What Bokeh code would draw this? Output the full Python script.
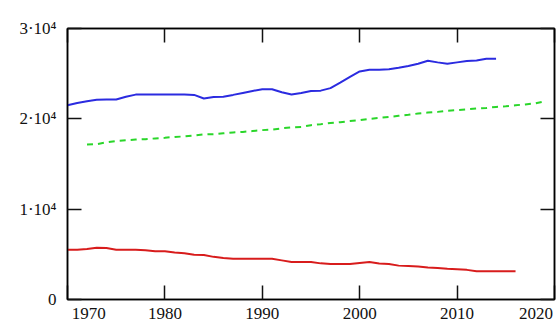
from bokeh.plotting import figure
from bokeh.models import Range1d, LinearAxis, FixedTicker
from bokeh.embed import file_html
from bokeh.resources import INLINE

# Annual series
years_blue = list(range(1970, 2015))
blue_vals = [21500, 21750, 21950, 22100, 22130, 22150, 22450, 22680, 22680, 22680,
             22680, 22680, 22680, 22650, 22250, 22420, 22450, 22650, 22870, 23090,
             23270, 23270, 22950, 22700, 22870, 23090, 23120, 23400, 24000, 24650,
             25250, 25440, 25440, 25480, 25650, 25850, 26100, 26430, 26250, 26100,
             26250, 26400, 26450, 26650, 26650]

years_green = list(range(1972, 2020))
green_vals = [17170, 17200, 17400, 17550, 17640, 17700, 17750, 17830, 17900, 18000,
              18050, 18150, 18270, 18300, 18400, 18490, 18550, 18650, 18750, 18800,
              18950, 19050, 19110, 19300, 19410, 19550, 19630, 19750, 19850, 20000,
              20100, 20200, 20330, 20450, 20590, 20700, 20770, 20900, 20960, 21050,
              21140, 21200, 21320, 21400, 21500, 21600, 21700, 21950]

years_red = list(range(1970, 2017))
red_vals = [5515, 5515, 5600, 5735, 5700, 5515, 5515, 5515, 5450, 5330,
            5330, 5200, 5110, 4950, 4920, 4720, 4600, 4520, 4520, 4520,
            4520, 4500, 4330, 4150, 4150, 4150, 4000, 3930, 3930, 3930,
            4050, 4150, 3980, 3930, 3750, 3710, 3650, 3530, 3500, 3400,
            3340, 3280, 3120, 3120, 3120, 3120, 3120]

# Axis ticks and labels
x_ticks = [1970, 1980, 1990, 2000, 2010, 2020]
x_tick_labels = ["1970", "1980", "1990", "2000", "2010", "2020"]
y_ticks = [0, 10000, 20000, 30000]
y_tick_labels = ["0", "1·10⁴", "2·10⁴", "3·10⁴"]

FONT = "'Liberation Serif'"
FIG_SPACE = "\u2007"
THIN_SPACE = "\u2009"

p = figure(width=556, height=325, output_backend="svg", toolbar_location=None,
           x_range=Range1d(x_ticks[0], x_ticks[-1]),
           y_range=Range1d(y_ticks[0], y_ticks[-1]),
           x_axis_location=None, y_axis_location=None,
           min_border_left=67, min_border_right=2, min_border_top=28,
           min_border_bottom=25, background_fill_color="white",
           border_fill_color="white")
p.grid.visible = False
p.outline_line_color = "black"
p.outline_line_width = 1.5


def tick_axis(ticks, labels=None):
    ax = LinearAxis(ticker=FixedTicker(ticks=ticks))
    ax.major_tick_in = 14
    ax.major_tick_out = 0
    ax.minor_tick_line_color = None
    ax.major_tick_line_color = "#111111"
    ax.major_tick_line_width = 1.5
    ax.axis_line_color = "black"
    ax.axis_line_width = 1.5
    if labels is None:
        ax.major_label_text_color = None
        ax.major_label_text_font_size = "0px"
        ax.major_label_standoff = 0
    else:
        ax.major_label_overrides = labels
        ax.major_label_text_font = FONT
        ax.major_label_text_font_size = "17px"
        ax.major_label_text_color = "#111111"
    return ax


# Bottom labels: the outermost ones are padded so they sit inside the frame width
bottom_labels = {}
for i, (t, s) in enumerate(zip(x_ticks, x_tick_labels)):
    if i == 0:
        s = FIG_SPACE * 5 + s
    elif i == len(x_ticks) - 1:
        s = s + THIN_SPACE
    bottom_labels[t] = s

bottom = tick_axis(x_ticks, bottom_labels)
bottom.major_label_standoff = 4
left = tick_axis(y_ticks, dict(zip(y_ticks, y_tick_labels)))
left.major_label_standoff = 11

p.add_layout(bottom, "below")
p.add_layout(tick_axis(x_ticks), "above")
p.add_layout(left, "left")
p.add_layout(tick_axis(y_ticks), "right")

p.line(years_blue, blue_vals, line_color="#2b2be0", line_width=2)
p.line(years_green, green_vals, line_color="#2ad62a", line_width=2,
       line_dash="6 5")
p.line(years_red, red_vals, line_color="#d81c1c", line_width=2)

open("out.html", "w").write(file_html(p, INLINE))
